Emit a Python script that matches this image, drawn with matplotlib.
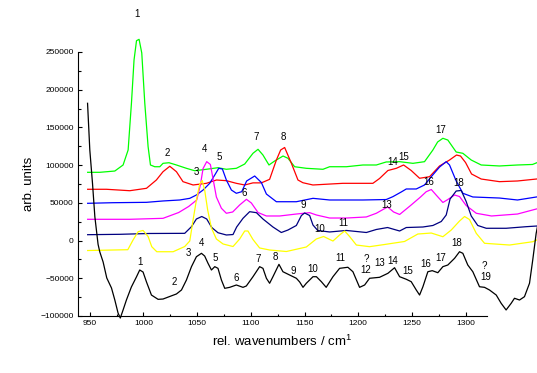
import matplotlib
matplotlib.use("Agg")
import matplotlib.pyplot as plt
from matplotlib.ticker import MultipleLocator

plt.rcParams['font.family'] = ['Liberation Sans', 'DejaVu Sans']
plt.rcParams['mathtext.default'] = 'regular'

# ----------------------------
# SPECTRA (rel. wavenumber, intensity)
# ----------------------------

wn_green = [948, 959.3, 973.3, 981, 985.7, 988.8, 991.2, 993.5, 995.9, 998.4, 1001.2, 1004.3,
            1006.5, 1010.5, 1015.2, 1018.2, 1023.8, 1030.7, 1040, 1047.7, 1058.6, 1069.4, 1077.2,
            1086.5, 1094.3, 1102, 1106.7, 1111.3, 1116.9, 1122.2, 1130, 1134.6, 1140.8, 1151.7,
            1167.2, 1173.4, 1189, 1204.4, 1216.9, 1226.1, 1238.6, 1251, 1261.8, 1269.6, 1274,
            1278.9, 1283.5, 1291.3, 1297.5, 1305.3, 1314.6, 1331.6, 1348.4, 1362.4, 1366.4]
green = [90500, 90500, 92200, 100200, 120100, 182400, 239400, 265000, 266800, 248700, 182400, 124500,
         100200, 97900, 97900, 102400, 103200, 100200, 95800, 92600, 94500, 96600, 94500,
         95800, 101500, 115700, 121000, 113400, 100200, 105500, 112100, 109100, 97900, 95800,
         94500, 97900, 97900, 100200, 100200, 104200, 104600, 102400, 104600, 120100, 130700,
         135600, 133300, 117400, 115700, 106800, 100200, 98900, 100200, 100900, 103200]

wn_red = [948, 965.5, 987.2, 1002.8, 1012, 1018.2, 1024.5, 1030.7, 1036.8, 1046.2, 1058.6, 1068,
          1077.2, 1086.5, 1094.3, 1102, 1109.8, 1117.5, 1123.8, 1127.8, 1131.5, 1137.8, 1143.9,
          1148.5, 1157.8, 1185.7, 1213.7, 1219.9, 1227.7, 1235.5, 1242.3, 1249.4, 1257.2, 1266.5,
          1275.8, 1285.1, 1291.6, 1295.3, 1300, 1305.6, 1314.6, 1331.6, 1348.4, 1366.1]
red = [68000, 68000, 66100, 69300, 80300, 91300, 98500, 91300, 78100, 73700, 75900, 80300,
       79400, 75900, 73700, 76500, 76500, 81200, 106800, 120100, 123400, 102400, 80300,
       76700, 73700, 75900, 75900, 82300, 92900, 95800, 100200, 92900, 82600, 84700,
       98900, 106800, 113400, 112100, 103500, 88300, 81600, 78100, 79000, 81600]

wn_blue = [948, 971.4, 1002.8, 1018.2, 1033.8, 1043.1, 1049.3, 1055.5, 1061.7, 1066.4, 1070.1,
           1073.5, 1077.2, 1081.9, 1086.5, 1091.5, 1096.1, 1103.6, 1109.8, 1114.5, 1123.8, 1142.4,
           1157.9, 1173.4, 1204.4, 1226.1, 1232.3, 1240.1, 1244.8, 1254.1, 1261.8, 1268.1, 1275.8,
           1282, 1285.1, 1291.3, 1297.5, 1306.8, 1331.6, 1348.4, 1366.1]
blue = [49400, 50200, 50700, 52500, 53800, 56000, 60400, 67000, 75900, 86900, 95800,
        94900, 80300, 67000, 62700, 64800, 79000, 85600, 77000, 61700, 51500, 51500,
        56000, 53800, 53800, 54400, 58200, 64400, 68400, 68400, 73700, 84700, 97500,
        104600, 100200, 79000, 62700, 57800, 56400, 53800, 57800]

wn_magenta = [948, 987.2, 1018.2, 1032.8, 1042.1, 1049.6, 1053, 1055.5, 1058.9, 1062.3, 1065,
              1067.9, 1072.6, 1077.2, 1083.1, 1089.6, 1095.9, 1100.5, 1106.7, 1114.5, 1126.9,
              1142.4, 1154.8, 1161.1, 1173.4, 1189, 1207.6, 1216.9, 1227.4, 1233, 1238.6, 1248.8,
              1258.1, 1263.4, 1268.1, 1273, 1278.9, 1283.5, 1289.8, 1294.4, 1300.6, 1310, 1324.2,
              1348.4, 1366.1]
magenta = [28200, 28200, 29500, 37200, 45200, 53800, 73700, 95500, 104600, 100900, 80300,
           57800, 42800, 36200, 37900, 47200, 54700, 49800, 37200, 32600, 32600,
           35200, 37000, 33900, 29900, 29900, 31300, 36200, 44600, 37900, 34600, 46500,
           57800, 64800, 67700, 59800, 50500, 54400, 60400, 58400, 46500, 36200, 32600,
           35200, 41900]

wn_navy = [948, 977.9, 1005.9, 1038.4, 1044.7, 1049.3, 1054.3, 1058.9, 1063.6, 1069.4, 1077.2,
           1083.4, 1086.8, 1092.7, 1098.9, 1105.2, 1111.3, 1120.6, 1128.4, 1134.6, 1142.4, 1147.1,
           1150.1, 1154.8, 1157.9, 1162.3, 1173.4, 1189, 1207.6, 1216.9, 1227.4, 1238.6, 1244.8,
           1260.3, 1269.6, 1277.4, 1282, 1285.6, 1291.3, 1296, 1300.6, 1305.3, 1311.4, 1319.3,
           1337.8, 1356.5, 1366.4]
navy = [7800, 8300, 9400, 9600, 18400, 28600, 31900, 28600, 17300, 10400, 7400,
        8000, 18000, 29500, 38300, 37000, 28600, 18000, 10700, 14000, 20000, 33200,
        36600, 33200, 20600, 13400, 11400, 13400, 10700, 14700, 17300, 12700, 17300,
        18000, 20000, 25300, 33900, 55100, 65700, 66400, 51800, 32600, 20000, 16300,
        16300, 18400, 19300]

wn_yellow = [948, 985.4, 990.3, 995, 999.6, 1004.3, 1007.7, 1012.4, 1027.6, 1038.4, 1043.1,
             1046.2, 1049.3, 1052.4, 1054.7, 1057, 1059.8, 1063.3, 1067.9, 1074.1, 1083.4, 1089.6,
             1094.3, 1097.3, 1102, 1108.2, 1117.5, 1133.1, 1151.7, 1161, 1167.8, 1176.5, 1182.7,
             1187.4, 1192, 1198.3, 1210.6, 1224.6, 1243.2, 1255.6, 1268.1, 1278.9, 1286.7, 1294.4,
             1299.1, 1303.7, 1310, 1317.7, 1341, 1362.7, 1366.4]
yellow = [-13200, -12100, 800, 11800, 13400, 5400, -8100, -14800, -14800, -7900, -600,
          27300, 53800, 75000, 79600, 67000, 40500, 16700, 2100, -4500, -7900, 2100,
          12700, 12700, 1400, -9800, -12500, -14500, -8500, 2100, 5400, -600, 7400,
          12700, 5400, -5900, -8100, -5200, -1200, 8700, 10000, 5100, 14000, 25900,
          31900, 27900, 9600, -3600, -5900, -1500, 800]

wn_black = [947.9, 950, 952.5, 954.7, 957.7, 959.3, 962.4, 965.8, 970.2, 973.3, 976.3, 978.4,
            981, 984.1, 988.7, 993.4, 996.5, 999.6, 1002.8, 1007.4, 1013.6, 1018.2, 1024.5,
            1030.7, 1035.4, 1040, 1044.7, 1049.3, 1054, 1057, 1060.1, 1063.3, 1066.4, 1069.4,
            1072.6, 1075.7, 1080.3, 1086.5, 1092.7, 1095.8, 1102, 1108.2, 1111.3, 1114.5, 1117.5,
            1120.6, 1126.2, 1129.9, 1136.2, 1142.4, 1145.5, 1148.6, 1151.7, 1157.9, 1161.1,
            1165.7, 1170.2, 1176.5, 1182.7, 1190.4, 1195.1, 1201.3, 1206, 1210.6, 1219.9, 1227.7,
            1233.9, 1238.6, 1244.8, 1249.4, 1254.1, 1257.2, 1260.3, 1264.9, 1269, 1274.2, 1278.9,
            1283.5, 1289.8, 1294.4, 1297.5, 1302.1, 1306.8, 1313, 1317.7, 1322.3, 1328.6, 1333.2,
            1337.8, 1342.5, 1345.6, 1350.3, 1354.9, 1359.6, 1362.6, 1365.8, 1367]
black = [182000, 120100, 76000, 31600, -5000, -15000, -28400, -49600, -62900, -78800,
         -96000, -102700, -92000, -78800, -61600, -48300, -39000, -41700, -54900, -72200, -77900,
         -77500, -74100, -70800, -65500, -52300, -34600, -21400, -16900, -20500, -30100, -39000,
         -34600, -36800, -52300, -63300, -62000, -58900, -62000, -60200, -47900, -34600, -36800,
         -50000, -56600, -47900, -31500, -41300, -45700, -50000, -54900, -62000, -56600, -47900,
         -47900, -54500, -62000, -47900, -36800, -35400, -41300, -62000, -58900, -50000, -48700,
         -43400, -36000, -47900, -51300, -54500, -65500, -72200, -61200, -41300, -39900, -42600,
         -34600, -32400, -23500, -14800, -16900, -32400, -41300, -61200, -62000, -65500, -72200,
         -83200, -92000, -83200, -76500, -78800, -74400, -56600, -25800, 9600, 18400]

# ----------------------------
# PEAK LABELS
# ----------------------------

top_text = ['1', '2', '3', '4', '5', '6', '7', '8', '9', '10', '11', '13', '14', '15', '16', '17', '18']
top_wn = [994, 1022.6, 1049.6, 1057, 1070.3, 1093.6, 1105.2, 1130.6, 1149.2, 1164.1, 1185.7,
          1226.7, 1231.7, 1242.6, 1265.6, 1277.3, 1293.8]
top_y = [300400, 116100, 90900, 121400, 111200, 63500, 137700, 137700, 47200, 14900, 23700,
         47200, 104600, 111200, 78000, 146600, 76700]

bot_text = ['1', '2', '3', '4', '5', '6', '7', '8', '9', '10', '11', '?', '12', '13', '14', '15',
            '16', '17', '18', '?', '19']
bot_wn = [996.5, 1028.5, 1041.5, 1053.9, 1066.4, 1086.5, 1107.3, 1123.1, 1139.9, 1157.8, 1183.6,
          1207.6, 1206.9, 1219.9, 1231.7, 1246.3, 1263.3, 1277.3, 1292.2, 1317.7, 1318.6]
bot_y = [-28800, -55300, -17000, -3600, -23500, -49200, -24400, -22200, -40000, -38000, -23500,
         -25000, -39000, -30100, -27100, -40000, -31500, -22700, -3600, -33200, -48700]

# ----------------------------
# PLOT
# ----------------------------

fig = plt.figure(figsize=(5.37, 3.73), dpi=100)
ax = fig.add_axes([78 / 537, 57 / 373, 409 / 537, 264 / 373])

series = [(wn_green, green, '#00ff00'), (wn_red, red, '#ff0000'), (wn_blue, blue, '#0000ff'),
          (wn_magenta, magenta, '#ff00ff'), (wn_navy, navy, '#000080'),
          (wn_yellow, yellow, '#ffff00'), (wn_black, black, 'black')]
for x, y, c in series:
    ax.plot(x, y, color=c, lw=0.9, clip_on=False)

for t, x, y in zip(top_text, top_wn, top_y):
    ax.text(x, y, t, fontsize=7, ha='center', va='center', clip_on=False)
for t, x, y in zip(bot_text, bot_wn, bot_y):
    ax.text(x, y, t, fontsize=7, ha='center', va='center', clip_on=False)

ax.set_xlim(939, 1320)
ax.set_ylim(-100000, 250000)
ax.xaxis.set_major_locator(MultipleLocator(50))
ax.xaxis.set_minor_locator(MultipleLocator(25))
ax.yaxis.set_major_locator(MultipleLocator(50000))
ax.yaxis.set_minor_locator(MultipleLocator(25000))
ax.tick_params(which='both', direction='in', labelsize=6, width=0.8)
ax.tick_params(which='major', length=3.2, pad=3)
ax.tick_params(which='minor', length=1.8)
for s in ['top', 'right']:
    ax.spines[s].set_visible(False)
ax.spines['left'].set_linewidth(0.8)
ax.spines['bottom'].set_linewidth(0.8)

ax.set_xlabel('rel. wavenumbers / cm$^{1}$', fontsize=9.5, labelpad=5)
ax.set_ylabel('arb. units', fontsize=9.5, labelpad=4)

fig.savefig('out.png', dpi=100)
